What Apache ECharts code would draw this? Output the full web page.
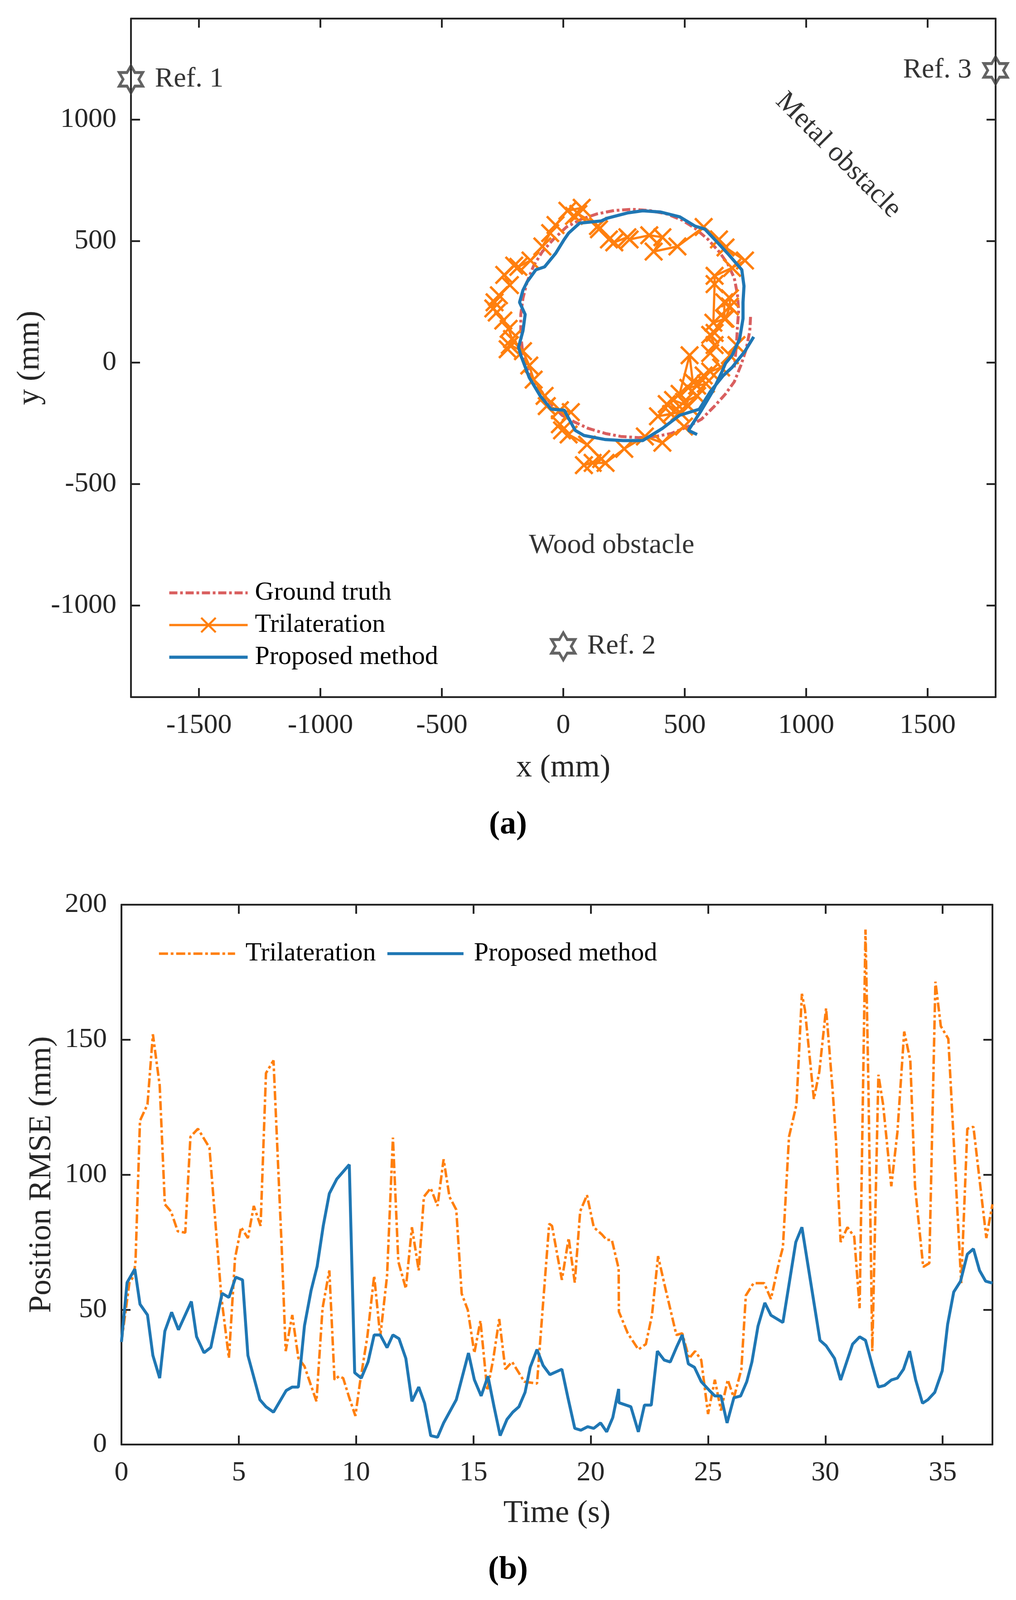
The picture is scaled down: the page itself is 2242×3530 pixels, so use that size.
<!DOCTYPE html>
<html>
<head>
<meta charset="utf-8">
<script src="https://cdn.jsdelivr.net/npm/echarts@6.0.0/dist/echarts.min.js"></script>
<style>
  html, body { margin: 0; padding: 0; background: #fff; }
  #chart { width: 2242px; height: 3530px; }
</style>
</head>
<body>
<div id="chart"></div>
<script>
// ---- (a) trajectory, x/y in mm ----
const groundTruth = [
  [771, 188], [768, 131], [753, 55], [731, -12], [704, -79], [668, -129], [623, -179],
  [569, -233], [515, -263], [444, -292], [381, -304], [309, -309], [237, -304], [174, -292],
  [103, -271], [49, -246], [-5, -217], [-50, -171], [-95, -112], [-140, -45], [-166, 30],
  [-175, 114], [-175, 198], [-166, 265], [-149, 332], [-122, 399], [-86, 457], [-41, 507],
  [13, 558], [76, 591], [139, 612], [210, 626], [282, 631], [354, 626], [426, 612],
  [488, 587], [542, 553], [596, 507], [641, 457], [677, 407], [704, 348], [717, 281],
  [722, 214], [717, 148], [713, 72], [704, -20]
];

const trilaterationXY = [
  [713, 72], [686, 30], [650, -20], [605, -37], [578, -53], [551, -95], [533, -79], [520, 30],
  [479, -129], [515, -104], [587, -87], [551, -137], [497, -162], [515, -179], [452, -154],
  [426, -171], [479, -204], [390, -221], [444, -212], [497, -263], [408, -330], [336, -304],
  [251, -355], [174, -413], [121, -413], [85, -422], [156, -397], [98, -338], [22, -296],
  [-5, -279], [-14, -254], [31, -204], [-14, -196], [-68, -179], [-77, -137], [-122, -70],
  [-140, -12], [-166, 47], [-220, 72], [-229, 55], [-211, 97], [-225, 139], [-247, 173],
  [-274, 206], [-288, 223], [-283, 248], [-265, 277], [-220, 319], [-243, 361], [-202, 399],
  [-185, 394], [-135, 420], [-86, 478], [-54, 533], [-32, 566], [17, 625], [76, 637],
  [44, 604], [62, 612], [143, 562], [147, 549], [188, 507], [210, 495], [264, 516],
  [273, 507], [354, 524], [408, 516], [372, 457], [470, 478], [578, 558], [641, 507],
  [668, 474], [748, 420], [695, 390], [623, 357], [623, 323], [618, 164], [668, 181],
  [686, 231], [686, 265], [663, 248], [663, 181], [623, 122], [605, 114], [623, 72], [605, 39]
];

const proposedXY = [
  [784, 106], [748, 47], [695, -20], [659, -53], [605, -120], [560, -192], [479, -217],
  [408, -271], [327, -321], [246, -321], [174, -317], [85, -300], [49, -279], [31, -246],
  [4, -196], [-50, -192], [-95, -137], [-140, -62], [-175, 30], [-184, 64], [-166, 131],
  [-157, 198], [-180, 248], [-166, 298], [-149, 332], [-113, 382], [-77, 394], [-32, 449],
  [4, 507], [22, 533], [67, 574], [156, 583], [183, 595], [264, 616], [327, 625], [399, 620],
  [479, 600], [542, 562], [583, 549], [623, 507], [677, 449], [735, 382], [744, 315],
  [740, 248], [740, 181], [726, 97], [695, 30], [668, -3], [650, -45], [614, -120],
  [569, -196], [515, -279], [551, -296]
];

const refNames = ['Ref. 1', 'Ref. 2', 'Ref. 3'];
const refX = [-1780, 0, 1780];
const refY = [1166, -1168, 1203];

const noteTexts = ['Wood obstacle', 'Metal obstacle'];
const noteX = [199, 1132];
const noteY = [-754, 853];
const noteAngle = [0, -45];

const xTicksA = [-1500, -1000, -500, 0, 500, 1000, 1500];
const yTicksA = [-1000, -500, 0, 500, 1000];

// ---- (b) position RMSE over time: [t (s), RMSE (mm)] ----
const trilaterationRmse = [
  [0, 38], [0.34, 60], [0.53, 62.5], [0.6, 68], [0.79, 120], [1.11, 126], [1.34, 152],
  [1.63, 133], [1.85, 89], [2.11, 86.4], [2.4, 79], [2.72, 78.5], [2.94, 114], [3.26, 117],
  [3.75, 110], [4.26, 54.5], [4.58, 32], [4.84, 69], [5.1, 80.5], [5.39, 76.5], [5.64, 88.4],
  [5.93, 81], [6.16, 137.6], [6.48, 142.3], [6.83, 73], [7.0, 34.6], [7.28, 48], [7.54, 32],
  [7.8, 29], [8.31, 16], [8.57, 50.5], [8.86, 64.5], [9.08, 24], [9.27, 25.3], [9.45, 24.6],
  [9.71, 17.3], [9.97, 10.6], [10.16, 22.6], [10.48, 40], [10.77, 62.5], [11.03, 40],
  [11.32, 62.5], [11.57, 113.7], [11.8, 67.8], [12.12, 57.8], [12.38, 80.5], [12.67, 64.5],
  [12.89, 91.8], [13.18, 95], [13.47, 88.4], [13.73, 105.7], [13.98, 91.8], [14.27, 87],
  [14.5, 55.9], [14.76, 49.9], [15.04, 33.9], [15.3, 45.9], [15.59, 20], [15.85, 31.9],
  [16.1, 46.5], [16.36, 27.9], [16.65, 30.6], [17.17, 23.3], [17.71, 22.6], [17.94, 49],
  [18.23, 81.8], [18.35, 81], [18.77, 61], [19.06, 76.5], [19.32, 60], [19.55, 86.4],
  [19.84, 92.4], [20.13, 80.5], [20.48, 77.8], [20.68, 75.8], [20.9, 75.8], [21.19, 65.2],
  [21.2, 49.2], [21.58, 41.2], [22.03, 35.2], [22.35, 37.2], [22.61, 47.9], [22.87, 69.8],
  [23.13, 59.8], [23.65, 40.6], [23.9, 41.2], [24.19, 31.9], [24.45, 34.6], [24.71, 31.3],
  [25.0, 11.3], [25.29, 24], [25.55, 12.6], [25.84, 24], [26.1, 17.3], [26.42, 27.9],
  [26.61, 55.2], [26.94, 59.8], [27.39, 59.8], [27.68, 53.9], [28.03, 67.8], [28.19, 73],
  [28.45, 114], [28.77, 126], [29.0, 167], [29.13, 161], [29.51, 128], [29.74, 138],
  [30.03, 161.6], [30.32, 130], [30.45, 113], [30.65, 75], [30.94, 80.5], [31.23, 77],
  [31.46, 50.5], [31.71, 190.8], [31.84, 130], [32.0, 34.6], [32.26, 137], [32.46, 126],
  [32.81, 95.7], [33.07, 115.7], [33.36, 153], [33.62, 142.3], [33.82, 95.7], [34.17, 65.8],
  [34.43, 67.2], [34.69, 171.5], [34.92, 155], [35.24, 150.3], [35.79, 59.8], [36.05, 117],
  [36.31, 117.7], [36.86, 76.5], [37.12, 89]
];

const proposedRmse = [
  [0, 38], [0.24, 60], [0.57, 65], [0.79, 52], [1.11, 48], [1.34, 33], [1.63, 24.6],
  [1.85, 42], [2.14, 49], [2.43, 42.5], [2.98, 53], [3.2, 40], [3.52, 34], [3.81, 36],
  [4.29, 56], [4.58, 54.5], [4.87, 62], [5.16, 61], [5.39, 33], [5.9, 16.6], [6.16, 14],
  [6.48, 12], [7.02, 20], [7.28, 21.3], [7.54, 21.3], [7.8, 44], [8.08, 57], [8.34, 66],
  [8.6, 81], [8.86, 93], [9.18, 98.4], [9.71, 103.7], [9.94, 26.6], [10.22, 24.6],
  [10.51, 30.6], [10.77, 40.6], [11.03, 40.6], [11.32, 35.9], [11.57, 40.6], [11.83, 39.2],
  [12.12, 31.9], [12.38, 16], [12.67, 21.3], [12.92, 15.3], [13.18, 3.3], [13.47, 2.7],
  [13.73, 8], [14.27, 16.6], [14.79, 33.9], [15.04, 24], [15.33, 18], [15.62, 25.3],
  [15.88, 14], [16.14, 3.3], [16.43, 9.3], [16.68, 12], [16.94, 14], [17.2, 19.3],
  [17.42, 28.6], [17.71, 35.2], [17.97, 29.3], [18.26, 25.9], [18.77, 27.9], [19.03, 17.3],
  [19.32, 6], [19.58, 5.3], [19.87, 6.6], [20.13, 6], [20.42, 8], [20.68, 4.7], [20.94, 10],
  [21.19, 20.6], [21.2, 15.5], [21.71, 14], [22.03, 4.7], [22.29, 14.6], [22.58, 14.6],
  [22.84, 34.6], [23.13, 31.3], [23.39, 30.6], [23.65, 35.9], [23.9, 40.6], [24.16, 29.9],
  [24.42, 28.6], [24.71, 23.3], [25.06, 20], [25.29, 18], [25.55, 18], [25.81, 8],
  [26.1, 17.3], [26.39, 18], [26.65, 23.3], [26.87, 30.6], [27.13, 43.9], [27.42, 52.5],
  [27.68, 47.9], [28.19, 45.2], [28.74, 75], [29.0, 80.5], [29.77, 38.6], [30.03, 36.6],
  [30.39, 31.9], [30.65, 23.9], [31.16, 37.2], [31.46, 39.9], [31.71, 38.6], [32.0, 29.3],
  [32.26, 21.3], [32.52, 21.9], [32.81, 23.9], [33.07, 24.6], [33.33, 27.9], [33.59, 34.6],
  [33.85, 23.9], [34.14, 15.3], [34.37, 16.6], [34.66, 19.3], [34.98, 27.3], [35.21, 44.5],
  [35.47, 56.5], [35.76, 60.5], [36.05, 70.5], [36.31, 72.5], [36.57, 64.5], [36.83, 60.5],
  [37.12, 59.8]
];

const timeTicks = [0, 5, 10, 15, 20, 25, 30, 35];
const rmseTicks = [0, 50, 100, 150, 200];

// ---- styling ----
const FONT = 'Liberation Serif';
const AXIS_COLOR = '#262626';
const ORANGE = '#ff7f0e';
const BLUE = '#1f77b4';
const RED = '#d95f5f';
const xMarker = 'path://M0,0.9 L0.9,0 L5,4.1 L9.1,0 L10,0.9 L5.9,5 L10,9.1 L9.1,10 L5,5.9 L0.9,10 L0,9.1 L4.1,5 Z';
const hexagram = 'path://M10,0 L12.89,5 L18.66,5 L15.77,10 L18.66,15 L12.89,15 L10,20 L7.11,15 L1.34,15 L4.23,10 L1.34,5 L7.11,5 Z';
const noMarker = { opacity: 0 };

function boxAxis(gridIndex, position, min, max, ticks, withLabels, name, nameGap) {
  return {
    type: 'value',
    gridIndex: gridIndex,
    position: position,
    min: min,
    max: max,
    name: withLabels ? name : '',
    nameLocation: 'middle',
    nameGap: nameGap,
    nameTextStyle: { fontFamily: FONT, fontSize: 70, color: AXIS_COLOR },
    axisLine: { show: true, onZero: false, lineStyle: { color: AXIS_COLOR, width: 4 } },
    axisTick: { show: true, inside: true, length: 20, customValues: ticks,
      lineStyle: { color: AXIS_COLOR, width: 4 } },
    axisLabel: { show: withLabels, customValues: ticks, margin: 32,
      formatter: function (v) { return String(v); },
      fontFamily: FONT, fontSize: 62, color: AXIS_COLOR },
    splitLine: { show: false }
  };
}

const chart = echarts.init(document.getElementById('chart'), null, { renderer: 'canvas' });

chart.setOption({
  backgroundColor: '#fff',
  animation: false,
  grid: [
    { left: 289, top: 41, width: 1908, height: 1497 },
    { left: 268, top: 1996, width: 1922, height: 1191 }
  ],
  xAxis: [
    boxAxis(0, 'bottom', -1780, 1780, xTicksA, true, 'x (mm)', 122),
    boxAxis(0, 'top', -1780, 1780, xTicksA, false),
    boxAxis(1, 'bottom', 0, 37.12, timeTicks, true, 'Time (s)', 118),
    boxAxis(1, 'top', 0, 37.12, timeTicks, false)
  ],
  yAxis: [
    boxAxis(0, 'left', -1377, 1416, yTicksA, true, 'y (mm)', 166),
    boxAxis(0, 'right', -1377, 1416, yTicksA, false),
    boxAxis(1, 'left', 0, 200, rmseTicks, true, 'Position RMSE (mm)', 140),
    boxAxis(1, 'right', 0, 200, rmseTicks, false)
  ],
  legend: [
    {
      data: [
        { name: 'Ground truth', itemStyle: noMarker, lineStyle: { width: 6.5 } },
        { name: 'Trilateration', lineStyle: { width: 5 } },
        { name: 'Proposed method', itemStyle: noMarker, lineStyle: { width: 7 } }
      ],
      orient: 'vertical', left: 365, top: 1274,
      itemWidth: 173, itemHeight: 44, itemGap: 13,
      selectedMode: false,
      textStyle: { fontFamily: FONT, fontSize: 58, color: '#000',
        padding: [0, 0, 0, 11] }
    },
    {
      data: [
        { name: 'Trilateration (b)', itemStyle: noMarker, lineStyle: { width: 5.5 } },
        { name: 'Proposed method (b)', itemStyle: noMarker, lineStyle: { width: 6.5 } }
      ],
      orient: 'horizontal', left: 343, top: 2070,
      itemWidth: 168, itemHeight: 44, itemGap: 22,
      selectedMode: false,
      formatter: function (n) { return n.replace(' (b)', ''); },
      textStyle: { fontFamily: FONT, fontSize: 58, color: '#000',
        padding: [0, 0, 0, 18] }
    }
  ],
  graphic: [
    { type: 'text', left: 'center', top: 1784,
      style: { text: '(a)', font: 'bold 72px "' + FONT + '"', fill: '#000' } },
    { type: 'text', left: 'center', top: 3428,
      style: { text: '(b)', font: 'bold 72px "' + FONT + '"', fill: '#000' } }
  ],
  series: [
    {
      name: 'Ground truth', type: 'line', xAxisIndex: 0, yAxisIndex: 0,
      data: groundTruth, symbol: 'none', z: 2,
      itemStyle: { color: RED },
      lineStyle: { color: RED, width: 6.5, type: [18, 6, 6, 6] }
    },
    {
      name: 'Trilateration', type: 'line', xAxisIndex: 0, yAxisIndex: 0,
      data: trilaterationXY, symbol: xMarker, symbolSize: 42, showSymbol: true, z: 3,
      itemStyle: { color: ORANGE },
      lineStyle: { color: ORANGE, width: 5 }
    },
    {
      name: 'Proposed method', type: 'line', xAxisIndex: 0, yAxisIndex: 0,
      data: proposedXY, symbol: 'none', z: 4,
      itemStyle: { color: BLUE },
      lineStyle: { color: BLUE, width: 7 }
    },
    {
      name: 'refs', type: 'scatter', xAxisIndex: 0, yAxisIndex: 0, clip: false, z: 5,
      symbol: hexagram, symbolSize: [52, 60],
      itemStyle: { color: 'rgba(0,0,0,0)', borderColor: '#3c3c3c', borderWidth: 6 },
      label: { show: true, formatter: '{b}', distance: 24,
        fontFamily: FONT, fontSize: 62, color: '#000' },
      data: refNames.map(function (n, i) {
        return { name: n, value: [refX[i], refY[i]],
          label: { position: refX[i] > 1000 ? 'left' : 'right' } };
      })
    },
    {
      name: 'notes', type: 'scatter', xAxisIndex: 0, yAxisIndex: 0, clip: false,
      symbolSize: 0,
      label: { show: true, position: 'inside', formatter: '{b}',
        fontFamily: FONT, fontSize: 62, color: '#000' },
      data: noteTexts.map(function (t, i) {
        return { name: t, value: [noteX[i], noteY[i]], label: { rotate: noteAngle[i] } };
      })
    },
    {
      name: 'Trilateration (b)', type: 'line', xAxisIndex: 2, yAxisIndex: 2,
      data: trilaterationRmse, symbol: 'none', z: 3,
      itemStyle: { color: ORANGE },
      lineStyle: { color: ORANGE, width: 5.5, type: [20, 6, 6, 6] }
    },
    {
      name: 'Proposed method (b)', type: 'line', xAxisIndex: 2, yAxisIndex: 2,
      data: proposedRmse, symbol: 'none', z: 4,
      itemStyle: { color: BLUE },
      lineStyle: { color: BLUE, width: 6.5 }
    }
  ]
});
</script>
</body>
</html>
